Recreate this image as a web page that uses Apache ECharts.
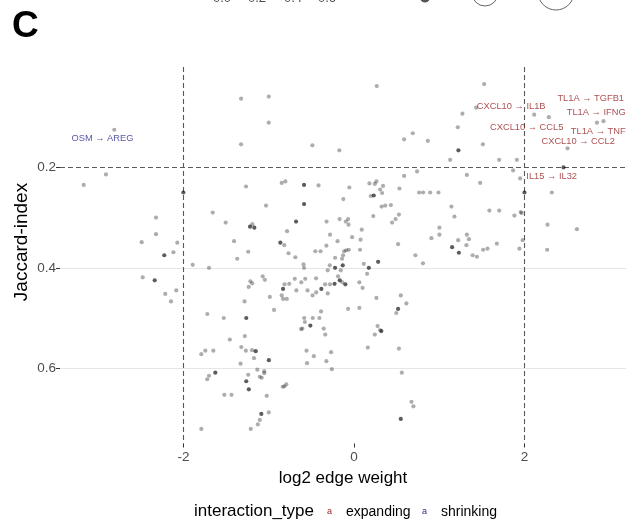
<!DOCTYPE html>
<html><head><meta charset="utf-8">
<script src="https://cdn.jsdelivr.net/npm/echarts@6/dist/echarts.min.js"></script>
<style>html,body{margin:0;padding:0;background:#fff}#c{width:626px;height:525px}</style>
</head><body><div id="c"></div>
<script>
// single (light) points: [log2 edge weight, Jaccard-index]
const lightPoints = [
[-2.813,0.125],
[-1.326,0.063],[-1.001,0.059],[-1.001,0.111],[-1.326,0.154],[-0.489,0.156],[-0.173,0.166],
[0.266,0.038],[1.526,0.034],[1.271,0.093],[1.432,0.081],[2.113,0.095],[2.285,0.100],[2.849,0.111],[2.926,0.108],
[1.217,0.120],[0.689,0.132],[0.587,0.144],[0.865,0.147],[1.511,0.154],[2.504,0.162],
[1.127,0.185],[1.702,0.185],[1.910,0.185],[1.866,0.206],[1.323,0.215],[0.739,0.208],[0.587,0.217],[1.948,0.222],[1.479,0.231],
[0.180,0.232],[0.243,0.233],[0.262,0.228],[0.340,0.237],[0.305,0.244],[0.329,0.251],[0.196,0.257],
[0.532,0.242],[-0.126,0.263],[-0.055,0.240],[-1.268,0.238],[-0.849,0.231],[-0.806,0.228],[-0.417,0.236],
[-1.033,0.276],[-1.658,0.290],[-2.324,0.300],[-2.324,0.333],[-1.506,0.310],[-1.194,0.313],
[-0.323,0.308],[-0.170,0.303],[-0.097,0.308],[-0.070,0.303],[-0.065,0.314],
[-0.786,0.327],[-0.282,0.334],[0.090,0.324],[-0.023,0.339],[0.076,0.344],[-0.194,0.347],[0.516,0.353],
[-0.819,0.355],[-1.408,0.347],[-2.492,0.349],[-2.074,0.350],[-2.119,0.369],[-1.242,0.368],[-0.769,0.371],
[-0.455,0.367],[-0.393,0.367],[-0.689,0.379],[-1.371,0.382],[-0.223,0.380],[-0.325,0.356],
[0.763,0.250],[0.810,0.250],[0.892,0.250],[0.990,0.250],[2.320,0.250],
[0.323,0.278],[0.366,0.276],[0.432,0.275],[1.142,0.278],[1.587,0.286],[1.702,0.286],[1.954,0.289],[1.966,0.291],[1.881,0.296],[1.177,0.298],
[0.225,0.297],[0.526,0.294],[0.487,0.303],[0.446,0.310],[2.269,0.314],[2.614,0.323],
[1.001,0.320],[1.001,0.334],[1.323,0.334],[1.347,0.343],[0.907,0.341],[1.221,0.345],[1.978,0.345],[1.675,0.352],[1.318,0.355],
[1.514,0.364],[1.565,0.362],[1.939,0.362],[2.265,0.364],
[-0.062,0.364],[-0.092,0.365],[-0.117,0.367],[-0.129,0.375],[-0.141,0.382],
[0.070,0.364],[0.719,0.375],[1.391,0.375],[1.441,0.378],[0.808,0.391],
[0.114,0.392],[0.153,0.412],[-0.593,0.393],[-0.587,0.400],[-0.285,0.395],[-0.156,0.405],[-0.309,0.405],
[-1.893,0.394],[-1.702,0.400],[-2.480,0.419],[-2.086,0.445],[-2.215,0.452],[-2.148,0.467],
[-1.072,0.417],[-1.047,0.424],[-1.217,0.427],[-1.195,0.431],[-1.236,0.438],
[-0.696,0.422],[-0.619,0.429],[-0.573,0.422],[-0.446,0.421],[-0.340,0.433],[-0.282,0.433],
[-0.816,0.433],[-0.761,0.432],[-0.677,0.445],[-0.546,0.445],[-0.444,0.449],[-0.487,0.455],[-0.309,0.451],
[-0.849,0.455],[-0.833,0.462],[-0.789,0.462],[-0.988,0.458],[-1.285,0.467],
[-0.188,0.417],[-0.137,0.429],[0.062,0.429],[0.100,0.440],[0.548,0.455],[0.262,0.460],
[0.614,0.471],[-0.939,0.484],[-0.387,0.487],[-0.070,0.482],[0.062,0.480],[0.495,0.490],
[-1.722,0.492],[-1.529,0.500],[-0.585,0.500],[-0.485,0.500],[-0.407,0.500],[-0.577,0.508],
[-0.622,0.522],[-0.607,0.521],[-0.356,0.521],[-0.338,0.533],[0.276,0.516],[0.305,0.524],[0.243,0.533],
[-1.282,0.536],[-1.458,0.543],[-1.323,0.558],[-1.270,0.565],[-1.197,0.564],
[-1.792,0.572],[-1.745,0.565],[-1.651,0.565],[-0.558,0.565],[-0.270,0.568],[-0.472,0.576],[-1.174,0.580],[-0.325,0.586],[-1.332,0.591],[-0.552,0.590],
[0.161,0.559],[0.526,0.561],[-0.261,0.602],[0.560,0.609],[-1.135,0.603],[-1.054,0.606],[-1.054,0.610],
[-1.702,0.615],[-1.723,0.622],[-1.242,0.613],[-1.106,0.617],[-1.083,0.619],
[-0.837,0.637],[-0.816,0.636],[-0.795,0.632],[-1.522,0.653],[-1.438,0.653],[-1.025,0.655],
[0.673,0.667],[0.696,0.676],[-1.001,0.688],[-1.106,0.703],[-1.129,0.712],[-1.792,0.721],[-1.212,0.721],
[-2.911,0.214],[-3.172,0.235]
];
// overlapping (dark) points
const darkPoints = [
[1.224,0.166],[2.457,0.200],[0.231,0.256],[-0.587,0.235],[-0.587,0.273],[-1.221,0.318],[-1.170,0.320],[-0.681,0.308],[-0.865,0.350],[-2.227,0.375],
[1.999,0.250],[1.150,0.359],[1.229,0.370],[0.282,0.388],[0.173,0.400],[-0.223,0.400],[-0.133,0.395],[-2.339,0.425],
[-0.229,0.432],[-0.833,0.442],[-0.384,0.442],[-0.168,0.425],[-0.102,0.433],
[0.516,0.482],[-1.265,0.500],[-0.513,0.515],[0.320,0.526],[-1.154,0.566],[-1.000,0.584],[-1.628,0.609],[-1.265,0.626],[-1.235,0.642],[0.548,0.701],[-1.088,0.691],[-2.003,0.250]
];
// annotation labels (text, type, anchor x, anchor y in data units)
const labelTexts = ['OSM → AREG','CXCL10 → IL1B','TL1A → TGFB1','TL1A → IFNG','CXCL10 → CCL5','TL1A → TNF','CXCL10 → CCL2','IL15 → IL32'];
const labelTypes = ['shrinking','expanding','expanding','expanding','expanding','expanding','expanding','expanding'];
const labelX = [-2.952, 1.843, 2.776, 2.840, 2.025, 2.864, 2.629, 2.318];
const labelY = [0.143, 0.0793, 0.0625, 0.0912, 0.1203, 0.1277, 0.149, 0.2187];
const xTicks = [-2, 0, 2];
const yTicks = [0.2, 0.4, 0.6];
const xThresholds = [-2, 2];
const yThreshold = 0.2;
const yGrid = [0.4, 0.6];
const sizeLegendLabels = ['0.0','0.2','0.4','0.6'];

const typeColor = {expanding:'#961d1d', shrinking:'#2c2c92'};
const FONT = 'Liberation Sans, Arial, Helvetica, sans-serif';

const chart = echarts.init(document.getElementById('c'), null, {renderer:'canvas'});
const lineData = [];
yGrid.forEach(v => lineData.push({yAxis:v, lineStyle:{color:'#e6e6e6', width:1.2, type:'solid'}}));
xThresholds.forEach(v => lineData.push({xAxis:v, lineStyle:{color:'#5a5a5a', width:1.1, type:[5,3]}}));
lineData.push({yAxis:yThreshold, lineStyle:{color:'#5a5a5a', width:1.1, type:[5,3]}});

const sizeLegendX = [222, 257, 293, 327];
const graphics = [
  {type:'text', left:12, top:8, style:{text:'C', font:'bold 37px ' + FONT, fill:'#000'}},
  {type:'text', x:22, y:242, rotation:Math.PI/2,
   style:{text:'Jaccard-index', font:'19px ' + FONT, fill:'#000', align:'center', verticalAlign:'middle'}},
  {type:'text', right: 626-314, top: 503, style:{text:'interaction_type', font:'17px ' + FONT, fill:'#000'}},
  {type:'text', left: 327, top: 507, style:{text:'a', font:'9px ' + FONT, fill:typeColor.expanding}},
  {type:'text', left: 346, top: 505, style:{text:'expanding', font:'14px ' + FONT, fill:'#000'}},
  {type:'text', left: 422, top: 507, style:{text:'a', font:'9px ' + FONT, fill:typeColor.shrinking}},
  {type:'text', left: 441, top: 505, style:{text:'shrinking', font:'14px ' + FONT, fill:'#000'}},
  {type:'circle', shape:{cx:425, cy:-3, r:5}, style:{fill:'#555', stroke:'#444', lineWidth:1}},
  {type:'circle', shape:{cx:485, cy:-7, r:13}, style:{fill:'none', stroke:'#666', lineWidth:1}},
  {type:'circle', shape:{cx:556, cy:-8, r:18}, style:{fill:'none', stroke:'#666', lineWidth:1}}
];
sizeLegendLabels.forEach((t,i) => graphics.push({type:'text', x:sizeLegendX[i], y:-2,
  style:{text:t, font:'13px ' + FONT, fill:'#4d4d4d', align:'center', verticalAlign:'middle'}}));

chart.setOption({
  animation:false,
  backgroundColor:'#fff',
  textStyle:{fontFamily:FONT},
  grid:{left:60, right:0, top:67, bottom:81.5},
  xAxis:{
    type:'value', min:-3.45, max:3.19,
    axisLine:{show:false, onZero:false},
    axisTick:{show:true, customValues:xTicks, length:4, lineStyle:{color:'#333'}},
    axisLabel:{customValues:xTicks, fontSize:13.5, color:'#4d4d4d', margin:7},
    splitLine:{show:false},
    name:'log2 edge weight', nameLocation:'middle', nameGap:26,
    nameTextStyle:{fontSize:17, color:'#000'}
  },
  yAxis:{
    type:'value', inverse:true, min:0, max:0.75, interval:0.2,
    axisLine:{show:false, onZero:false},
    axisTick:{show:true, customValues:yTicks, length:4, lineStyle:{color:'#333'}},
    axisLabel:{customValues:yTicks, fontSize:13.5, color:'#4d4d4d', margin:4, formatter:v=>v.toFixed(1)},
    splitLine:{show:false}
  },
  series:[
    {type:'scatter', name:'single', data:lightPoints, symbolSize:4.2, z:3,
     itemStyle:{color:'rgba(0,0,0,0.4)'},
     markLine:{silent:true, z:1, symbol:['none','none'], label:{show:false}, animation:false, data:lineData}},
    {type:'scatter', name:'overlap', data:darkPoints, symbolSize:4.2, z:4,
     itemStyle:{color:'rgba(0,0,0,0.8)'}},
    {type:'scatter', name:'labels', symbolSize:0, z:5, silent:true,
     data:labelTexts.map((t,i)=>({name:t, value:[labelX[i], labelY[i]],
       label:{color:typeColor[labelTypes[i]]}})),
     label:{show:true, position:'inside', formatter:'{b}', fontSize:9.3, fontFamily:FONT}}
  ],
  graphic:graphics
});
</script></body></html>
